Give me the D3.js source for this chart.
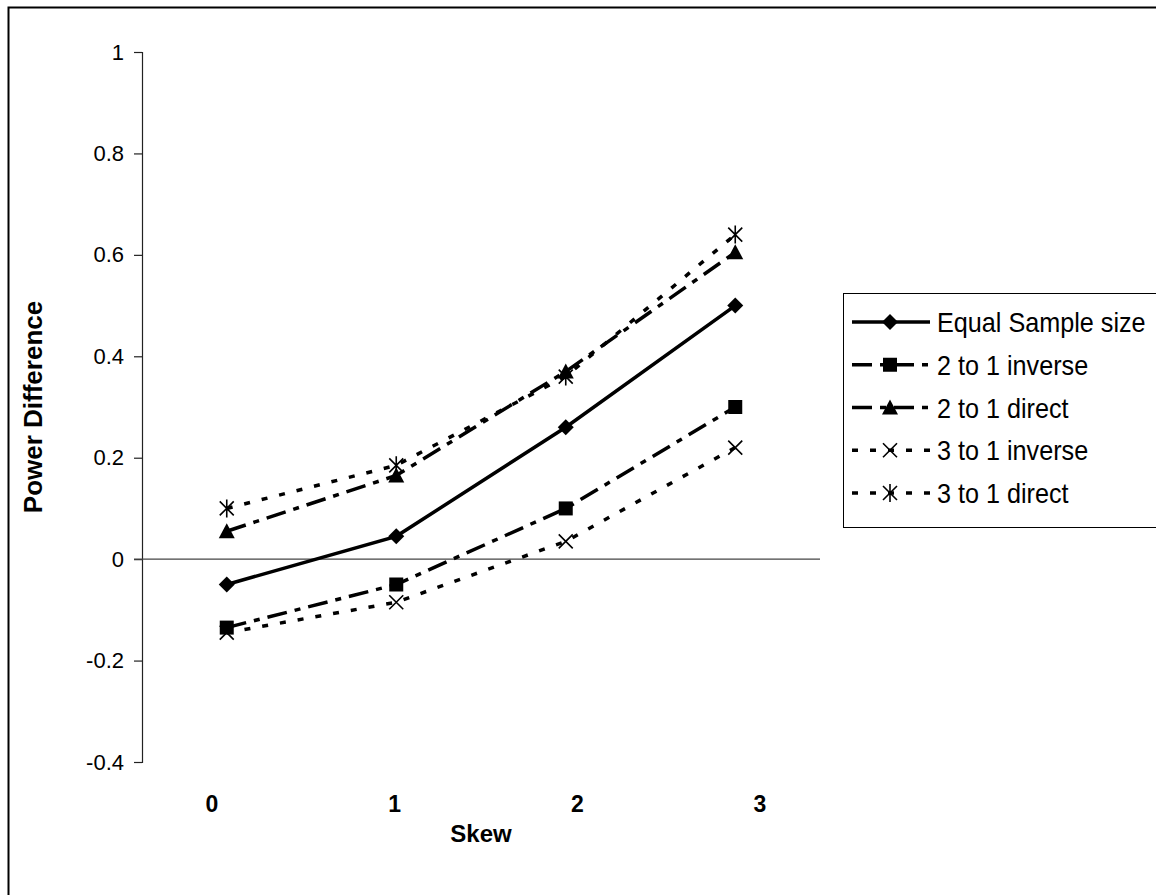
<!DOCTYPE html>
<html>
<head>
<meta charset="utf-8">
<script src="https://cdn.jsdelivr.net/npm/d3@7"></script>
<style>
  body { margin: 0; background: #fff; }
  svg { display: block; }
  text { font-family: Arial, "Liberation Sans", sans-serif; fill: #000; }
</style>
</head>
<body>
<svg id="chart" width="1156" height="895"></svg>
<script>
// Categories on the skew axis and the power difference for each design
const skewCategories = ["0", "1", "2", "3"];
const equalSample = [-0.05, 0.045, 0.26, 0.50];
const inverse2to1 = [-0.135, -0.05, 0.10, 0.30];
const direct2to1 = [0.055, 0.165, 0.37, 0.605];
const inverse3to1 = [-0.145, -0.085, 0.035, 0.22];
const direct3to1 = [0.10, 0.185, 0.36, 0.64];
const seriesNames = ["Equal Sample size", "2 to 1 inverse", "2 to 1 direct", "3 to 1 inverse", "3 to 1 direct"];
const yTickValues = [-0.4, -0.2, 0, 0.2, 0.4, 0.6, 0.8, 1];

const series = [
  { name: seriesNames[0], values: equalSample, dash: null, marker: "diamond" },
  { name: seriesNames[1], values: inverse2to1, dash: "20,8,6,8", marker: "square" },
  { name: seriesNames[2], values: direct2to1, dash: "20,8,6,8", marker: "triangle" },
  { name: seriesNames[3], values: inverse3to1, dash: "6,12", marker: "x" },
  { name: seriesNames[4], values: direct3to1, dash: "6,12", marker: "star" }
];

const svg = d3.select("#chart");

// outer chart frame (runs past the right and bottom edges)
svg.append("rect")
  .attr("x", 8.5).attr("y", 7.5)
  .attr("width", 1170).attr("height", 910)
  .attr("fill", "none").attr("stroke", "#000").attr("stroke-width", 2);

const plot = { left: 142, right: 820, top: 52, bottom: 762 };

const x = d3.scaleBand().domain(skewCategories).range([plot.left, plot.right]).padding(0);
const xc = c => x(c) + x.bandwidth() / 2;
const y = d3.scaleLinear().domain([-0.4, 1]).range([plot.bottom, plot.top]);

// y axis with outward ticks
const yAxis = d3.axisLeft(y).tickValues(yTickValues).tickSize(8).tickPadding(10)
  .tickFormat(d => String(+d.toFixed(1)));
const gy = svg.append("g").attr("transform", `translate(${plot.left},0)`).call(yAxis);
gy.select(".domain").attr("stroke", "#222").attr("stroke-width", 1.2);
gy.selectAll(".tick line").attr("stroke", "#222").attr("stroke-width", 1.2);
gy.selectAll(".tick text").attr("font-size", 22)
  .style("font-family", "Arial, 'Liberation Sans', sans-serif").attr("fill", "#000");

// horizontal axis line at zero
svg.append("line")
  .attr("x1", plot.left - 8).attr("x2", plot.right)
  .attr("y1", y(0)).attr("y2", y(0))
  .attr("stroke", "#444").attr("stroke-width", 1.4);

// skew labels along the bottom
const xLabel = d3.scalePoint().domain(skewCategories).range([212, 760]);
svg.append("g").selectAll("text").data(skewCategories).join("text")
  .attr("x", d => xLabel(d)).attr("y", 812)
  .attr("text-anchor", "middle").attr("font-size", 23).attr("font-weight", "bold")
  .text(d => d);

svg.append("text")
  .attr("x", (plot.left + plot.right) / 2).attr("y", 842)
  .attr("text-anchor", "middle").attr("font-size", 24).attr("font-weight", "bold")
  .text("Skew");

svg.append("text")
  .attr("transform", `translate(42,${(plot.top + plot.bottom) / 2}) rotate(-90)`)
  .attr("text-anchor", "middle").attr("font-size", 26).attr("font-weight", "bold")
  .text("Power Difference");

// marker drawing
function drawMarker(g, type, cx, cy) {
  if (type === "diamond") {
    g.append("path").attr("d", `M${cx},${cy - 8}L${cx + 8},${cy}L${cx},${cy + 8}L${cx - 8},${cy}Z`).attr("fill", "#000");
  } else if (type === "square") {
    g.append("rect").attr("x", cx - 7).attr("y", cy - 7).attr("width", 14).attr("height", 14).attr("fill", "#000");
  } else if (type === "triangle") {
    g.append("path").attr("d", `M${cx},${cy - 8}L${cx + 8},${cy + 7}L${cx - 8},${cy + 7}Z`).attr("fill", "#000");
  } else if (type === "x" || type === "star") {
    const r = 7;
    g.append("path")
      .attr("d", `M${cx - r},${cy - r}L${cx + r},${cy + r}M${cx - r},${cy + r}L${cx + r},${cy - r}` +
        (type === "star" ? `M${cx},${cy - r - 2}L${cx},${cy + r + 2}` : ""))
      .attr("stroke", "#000").attr("stroke-width", 1.6).attr("fill", "none");
  }
}

const line = d3.line().x((d, i) => xc(skewCategories[i])).y(d => y(d));

const gSeries = svg.append("g");
series.forEach(s => {
  gSeries.append("path")
    .attr("d", line(s.values))
    .attr("fill", "none").attr("stroke", "#000").attr("stroke-width", 3.5)
    .attr("stroke-dasharray", s.dash);
});
series.forEach(s => {
  const g = gSeries.append("g");
  s.values.forEach((v, i) => drawMarker(g, s.marker, xc(skewCategories[i]), y(v)));
});

// legend
const legend = svg.append("g");
legend.append("rect")
  .attr("x", 843.5).attr("y", 293.5).attr("width", 340).attr("height", 234)
  .attr("fill", "#fff").attr("stroke", "#000").attr("stroke-width", 1);
const legendY = d3.scalePoint().domain(seriesNames).range([322, 493]);
series.forEach(s => {
  const ly = legendY(s.name);
  legend.append("line")
    .attr("x1", 852).attr("x2", 930).attr("y1", ly).attr("y2", ly)
    .attr("stroke", "#000").attr("stroke-width", 3.5)
    .attr("stroke-dasharray", s.dash);
  drawMarker(legend, s.marker, 890, ly);
  legend.append("text")
    .attr("transform", `translate(937,${ly}) scale(0.9,1)`)
    .attr("dy", "0.36em")
    .attr("font-size", 28)
    .text(s.name);
});
</script>
</body>
</html>
